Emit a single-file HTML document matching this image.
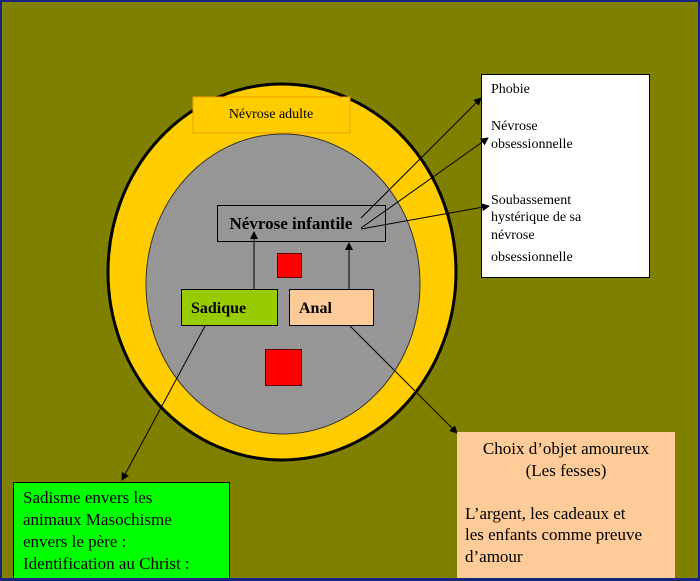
<!DOCTYPE html>
<html><head><style>
html,body{margin:0;width:700px;height:581px;overflow:hidden}
body{background:#808000;font-family:"Liberation Serif",serif;position:relative}
.b{position:absolute;box-sizing:border-box;overflow:hidden}
</style></head><body>
<svg width="700" height="581" style="position:absolute;left:0;top:0">
<defs><marker id="a" markerWidth="8" markerHeight="8" refX="7" refY="4" orient="auto" markerUnits="userSpaceOnUse"><path d="M0,0 L8,4 L0,8 z" fill="#000"/></marker></defs>
<ellipse cx="282" cy="272" rx="174" ry="188" fill="#ffcc00" stroke="#000" stroke-width="3"/>
<ellipse cx="283" cy="284" rx="137" ry="150" fill="#969696" stroke="#333" stroke-width="1"/>
<rect x="193" y="97" width="157" height="36" fill="#ffcc00" stroke="#f0a000"/>
<text x="271" y="118" font-size="14" text-anchor="middle" font-family="Liberation Serif">Névrose  adulte</text>
<rect x="217.5" y="205.5" width="168" height="36" fill="#969696" stroke="#000"/>
<text x="291" y="229" font-size="17" text-anchor="middle" font-weight="bold" font-family="Liberation Serif">Névrose infantile</text>
<rect x="277.5" y="253.5" width="24" height="24" fill="#f00" stroke="#600"/>
<rect x="265.5" y="349.5" width="36" height="36" fill="#f00" stroke="#600"/>
<rect x="181.5" y="289.5" width="96" height="36" fill="#99cc00" stroke="#000"/>
<text x="191" y="313" font-size="16" font-weight="bold" font-family="Liberation Serif">Sadique</text>
<rect x="289.5" y="289.5" width="84" height="36" fill="#ffcc99" stroke="#000"/>
<text x="299" y="313" font-size="16" font-weight="bold" font-family="Liberation Serif">Anal</text>
<rect x="481.5" y="74.5" width="168" height="203" fill="#fff" stroke="#000"/>
<g font-size="14" font-family="Liberation Serif">
<text x="491" y="93">Phobie</text>
<text x="491" y="130">Névrose</text>
<text x="491" y="148">obsessionnelle</text>
<text x="491" y="204">Soubassement</text>
<text x="491" y="221">hystérique de sa</text>
<text x="491" y="239">névrose</text>
<text x="491" y="261">obsessionnelle</text>
</g>
<g stroke="#000" stroke-width="1" fill="none">
<line x1="254" y1="289" x2="254" y2="232" marker-end="url(#a)"/>
<line x1="349" y1="289" x2="349" y2="243" marker-end="url(#a)"/>
<line x1="361" y1="218" x2="481" y2="98" marker-end="url(#a)"/>
<line x1="361" y1="228" x2="488" y2="138" marker-end="url(#a)"/>
<line x1="361" y1="229" x2="489" y2="206" marker-end="url(#a)"/>
<line x1="205" y1="326" x2="122" y2="480" marker-end="url(#a)"/>
<line x1="350" y1="326" x2="457" y2="433" marker-end="url(#a)"/>
</g>
</svg>
<div class="b" style="left:13px;top:482px;width:217px;height:110px;background:#00ff00;border:1px solid #000;padding:4px 0 0 9px;font-size:17px;line-height:22px">Sadisme envers les<br>animaux Masochisme<br>envers le père :<br>Identification au Christ :</div>
<div class="b" style="left:457px;top:432px;width:218px;height:160px;background:#ffcc99;padding:6px 0 0 8px;font-size:17px;line-height:21.5px"><div style="text-align:center;padding-right:8px">Choix d’objet amoureux<br>(Les fesses)</div><br><div>L’argent, les cadeaux et<br>les enfants comme preuve<br>d’amour</div></div>
<div class="b" style="left:0;top:0;width:700px;height:581px;border:2px solid #1a237e;border-bottom:3px solid #1a237e"></div>
</body></html>
